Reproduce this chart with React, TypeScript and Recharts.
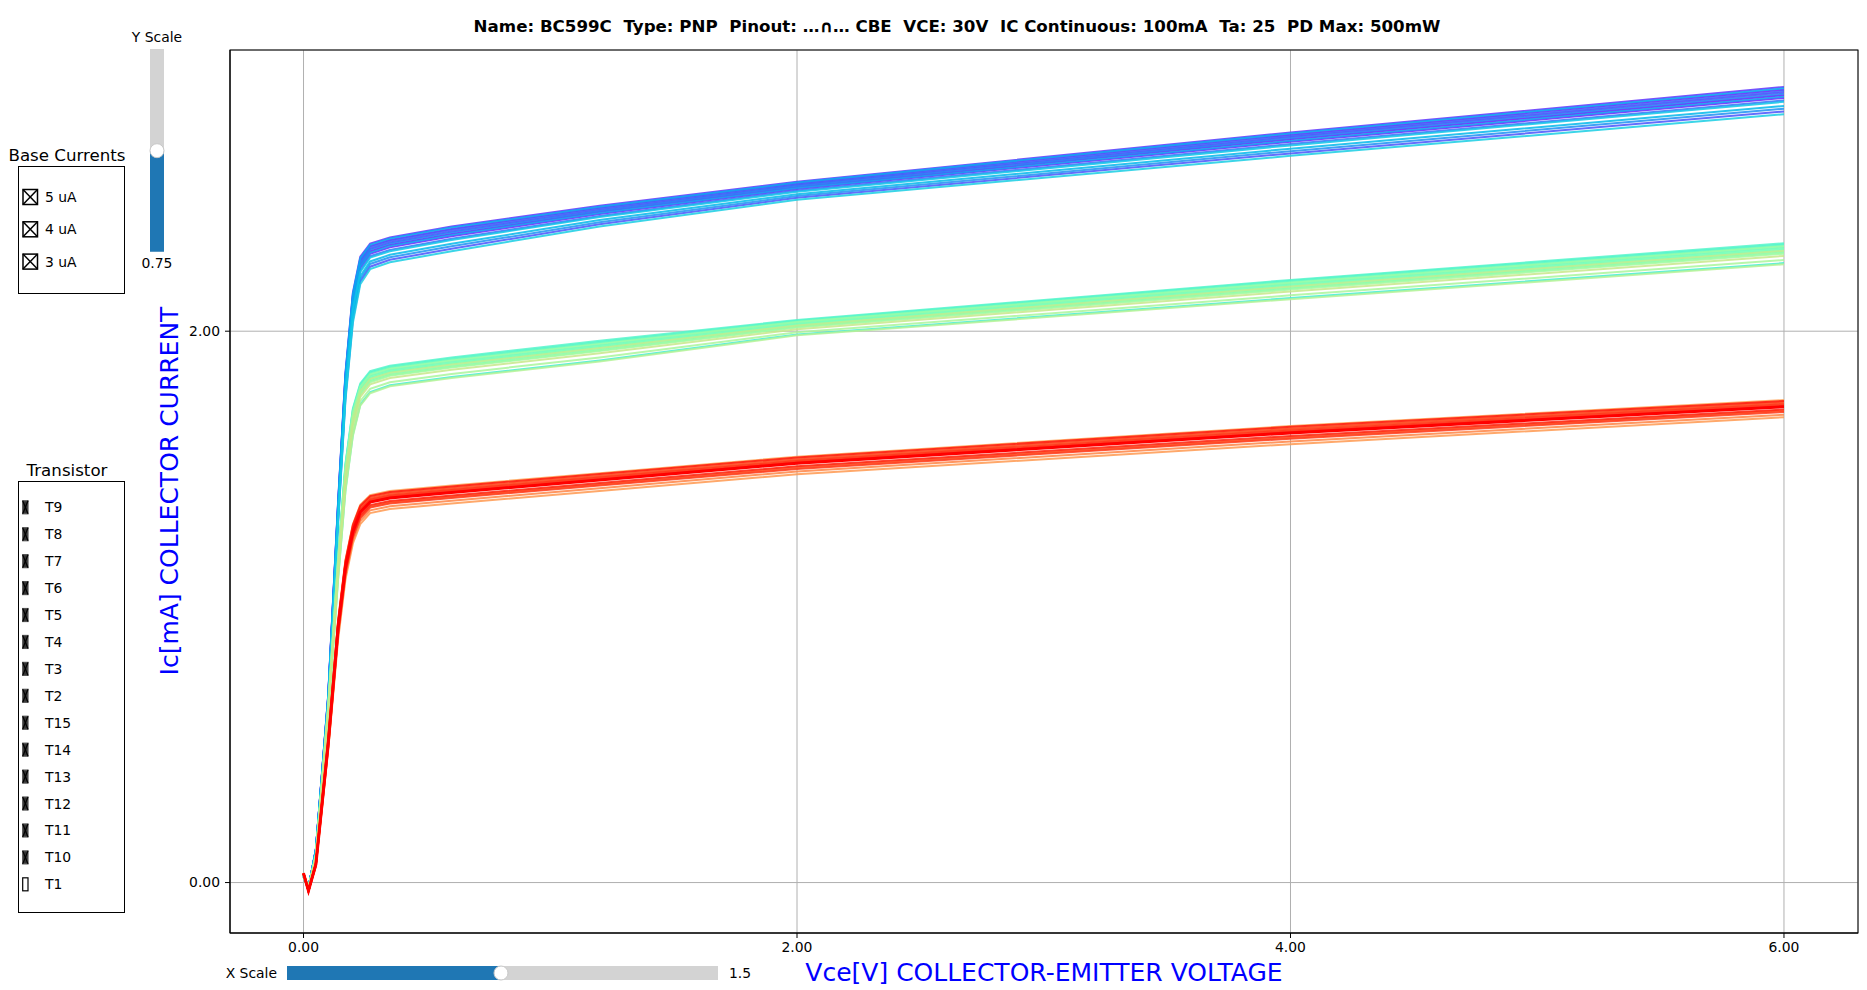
import React from 'react';
import { LineChart, Line, XAxis, YAxis, CartesianGrid } from 'recharts';

// ---------------- DATA ----------------
const VCE = [0, 0.02, 0.05, 0.1, 0.14, 0.17, 0.2, 0.23, 0.27, 0.35, 0.6, 1.2, 2, 4, 6];

const TRANSISTORS = ['T1', 'T2', 'T3', 'T4', 'T5', 'T6', 'T7', 'T8', 'T9', 'T10', 'T11', 'T12', 'T13', 'T14', 'T15'];
const LEGEND_ORDER = ['T9', 'T8', 'T7', 'T6', 'T5', 'T4', 'T3', 'T2', 'T15', 'T14', 'T13', 'T12', 'T11', 'T10', 'T1'];
const BASE_CURRENTS = ['5 uA', '4 uA', '3 uA'];
const X_TICKS = [0, 2, 4, 6];
const Y_TICKS = [0, 2];

// Ic [mA] per transistor (rows T1..T15) at the VCE points, base current 5 uA
const IC_5UA: number[][] = [
  [0.027, -0.02, 0.117, 0.668, 1.356, 1.82, 2.107, 2.24, 2.29, 2.313, 2.353, 2.433, 2.523, 2.696, 2.856],
  [0.029, -0.02, 0.119, 0.676, 1.372, 1.84, 2.129, 2.26, 2.309, 2.331, 2.371, 2.448, 2.536, 2.713, 2.876],
  [0.026, -0.02, 0.116, 0.664, 1.348, 1.81, 2.096, 2.23, 2.281, 2.304, 2.344, 2.425, 2.516, 2.687, 2.846],
  [0.03, -0.02, 0.12, 0.68, 1.38, 1.85, 2.14, 2.27, 2.318, 2.34, 2.38, 2.455, 2.542, 2.721, 2.886],
  [0.028, -0.02, 0.118, 0.672, 1.364, 1.83, 2.118, 2.25, 2.299, 2.322, 2.362, 2.44, 2.529, 2.704, 2.866],
  [0.021, -0.02, 0.111, 0.644, 1.308, 1.76, 2.041, 2.18, 2.234, 2.259, 2.299, 2.388, 2.484, 2.645, 2.797],
  [0.029, -0.02, 0.119, 0.674, 1.368, 1.835, 2.124, 2.255, 2.304, 2.327, 2.367, 2.444, 2.532, 2.708, 2.871],
  [0.025, -0.02, 0.115, 0.66, 1.34, 1.8, 2.085, 2.22, 2.272, 2.295, 2.335, 2.418, 2.51, 2.679, 2.837],
  [0.028, -0.02, 0.118, 0.67, 1.36, 1.825, 2.113, 2.245, 2.295, 2.318, 2.358, 2.436, 2.526, 2.7, 2.861],
  [0.022, -0.02, 0.112, 0.648, 1.316, 1.77, 2.052, 2.19, 2.244, 2.268, 2.308, 2.395, 2.49, 2.653, 2.807],
  [0.027, -0.02, 0.117, 0.666, 1.352, 1.815, 2.102, 2.235, 2.285, 2.309, 2.349, 2.429, 2.519, 2.691, 2.851],
  [0.03, -0.02, 0.12, 0.678, 1.376, 1.845, 2.135, 2.265, 2.313, 2.336, 2.376, 2.451, 2.539, 2.717, 2.881],
  [0.023, -0.02, 0.113, 0.652, 1.324, 1.78, 2.063, 2.2, 2.253, 2.277, 2.317, 2.403, 2.497, 2.662, 2.817],
  [0.025, -0.02, 0.115, 0.658, 1.336, 1.795, 2.08, 2.215, 2.267, 2.29, 2.331, 2.414, 2.506, 2.674, 2.832],
  [0.02, -0.02, 0.11, 0.64, 1.3, 1.75, 2.03, 2.17, 2.225, 2.25, 2.29, 2.38, 2.477, 2.636, 2.787],
];

// base current 4 uA
const IC_4UA: number[][] = [
  [0.021, -0.02, 0.09, 0.602, 1.104, 1.425, 1.625, 1.734, 1.779, 1.804, 1.834, 1.894, 1.988, 2.12, 2.247],
  [0.03, -0.02, 0.1, 0.638, 1.176, 1.515, 1.715, 1.806, 1.851, 1.871, 1.901, 1.961, 2.038, 2.183, 2.315],
  [0.03, -0.02, 0.1, 0.64, 1.18, 1.52, 1.72, 1.81, 1.855, 1.875, 1.905, 1.965, 2.041, 2.186, 2.319],
  [0.028, -0.02, 0.098, 0.632, 1.164, 1.5, 1.7, 1.794, 1.839, 1.86, 1.89, 1.95, 2.03, 2.172, 2.304],
  [0.029, -0.02, 0.099, 0.636, 1.172, 1.51, 1.71, 1.802, 1.847, 1.868, 1.898, 1.958, 2.035, 2.179, 2.311],
  [0.027, -0.02, 0.097, 0.628, 1.156, 1.49, 1.69, 1.786, 1.831, 1.853, 1.883, 1.943, 2.024, 2.165, 2.296],
  [0.028, -0.02, 0.098, 0.63, 1.16, 1.495, 1.695, 1.79, 1.835, 1.856, 1.886, 1.946, 2.027, 2.169, 2.3],
  [0.026, -0.02, 0.096, 0.624, 1.148, 1.48, 1.68, 1.778, 1.823, 1.845, 1.875, 1.935, 2.019, 2.158, 2.289],
  [0.026, -0.02, 0.096, 0.622, 1.144, 1.475, 1.675, 1.774, 1.819, 1.841, 1.871, 1.931, 2.016, 2.155, 2.285],
  [0.029, -0.02, 0.099, 0.634, 1.168, 1.505, 1.705, 1.798, 1.843, 1.864, 1.894, 1.954, 2.033, 2.176, 2.308],
  [0.025, -0.02, 0.095, 0.62, 1.14, 1.47, 1.67, 1.77, 1.815, 1.838, 1.868, 1.928, 2.013, 2.151, 2.281],
  [0.022, -0.02, 0.092, 0.608, 1.116, 1.44, 1.64, 1.746, 1.791, 1.815, 1.845, 1.905, 1.996, 2.13, 2.258],
  [0.02, -0.02, 0.09, 0.6, 1.1, 1.42, 1.62, 1.73, 1.775, 1.8, 1.83, 1.89, 1.985, 2.116, 2.243],
  [0.027, -0.02, 0.097, 0.626, 1.152, 1.485, 1.685, 1.782, 1.827, 1.849, 1.879, 1.939, 2.021, 2.162, 2.292],
  [0.024, -0.02, 0.094, 0.616, 1.132, 1.46, 1.66, 1.762, 1.807, 1.83, 1.86, 1.92, 2.007, 2.144, 2.273],
];

// base current 3 uA
const IC_3UA: number[][] = [
  [0.035, -0.03, 0.07, 0.52, 0.95, 1.17, 1.3, 1.37, 1.405, 1.42, 1.44, 1.485, 1.545, 1.656, 1.75],
  [0.03, -0.03, 0.06, 0.48, 0.88, 1.1, 1.23, 1.3, 1.34, 1.355, 1.375, 1.42, 1.481, 1.59, 1.688],
  [0.035, -0.03, 0.069, 0.516, 0.943, 1.163, 1.293, 1.363, 1.399, 1.414, 1.434, 1.479, 1.539, 1.649, 1.744],
  [0.031, -0.03, 0.062, 0.486, 0.891, 1.111, 1.241, 1.311, 1.35, 1.365, 1.385, 1.43, 1.491, 1.6, 1.697],
  [0.034, -0.03, 0.068, 0.512, 0.936, 1.156, 1.286, 1.356, 1.392, 1.407, 1.427, 1.472, 1.532, 1.643, 1.738],
  [0.032, -0.03, 0.064, 0.496, 0.908, 1.128, 1.258, 1.328, 1.366, 1.381, 1.401, 1.446, 1.507, 1.616, 1.713],
  [0.034, -0.03, 0.067, 0.508, 0.929, 1.149, 1.279, 1.349, 1.386, 1.401, 1.421, 1.466, 1.526, 1.636, 1.731],
  [0.032, -0.03, 0.064, 0.494, 0.905, 1.125, 1.255, 1.325, 1.363, 1.378, 1.398, 1.443, 1.503, 1.613, 1.71],
  [0.034, -0.03, 0.069, 0.514, 0.94, 1.16, 1.29, 1.36, 1.395, 1.41, 1.43, 1.475, 1.535, 1.646, 1.741],
  [0.032, -0.03, 0.063, 0.492, 0.901, 1.121, 1.251, 1.321, 1.36, 1.375, 1.395, 1.44, 1.5, 1.61, 1.707],
  [0.034, -0.03, 0.068, 0.51, 0.933, 1.153, 1.283, 1.353, 1.389, 1.404, 1.424, 1.469, 1.529, 1.64, 1.735],
  [0.032, -0.03, 0.065, 0.498, 0.912, 1.132, 1.262, 1.332, 1.369, 1.384, 1.404, 1.449, 1.51, 1.62, 1.716],
  [0.035, -0.03, 0.07, 0.518, 0.947, 1.167, 1.297, 1.367, 1.402, 1.417, 1.437, 1.482, 1.542, 1.653, 1.747],
  [0.033, -0.03, 0.067, 0.506, 0.926, 1.146, 1.276, 1.346, 1.382, 1.397, 1.417, 1.462, 1.523, 1.633, 1.728],
  [0.033, -0.03, 0.066, 0.505, 0.923, 1.143, 1.273, 1.343, 1.38, 1.395, 1.415, 1.46, 1.521, 1.631, 1.726],
];

const GROUPS = [IC_5UA, IC_4UA, IC_3UA];

// ---------------- STYLE ----------------
const FONT = 'DejaVu Sans, Verdana, sans-serif';
// colormap position range (rainbow) per base-current group
const GROUP_COLOR_RANGE: [number, number][] = [
  [0.0, 0.3],
  [0.38, 0.64],
  [0.78, 1.0],
];

function rainbow(t: number): string {
  const c = (v: number) => Math.round(Math.max(0, Math.min(1, v)) * 255);
  const r = c(Math.abs(2 * t - 0.5));
  const g = c(Math.sin(Math.PI * t));
  const b = c(Math.cos((Math.PI * t) / 2));
  return `rgb(${r},${g},${b})`;
}

type SeriesDef = { key: string; color: string; width: number; opacity: number };
const SERIES: SeriesDef[] = [];
GROUPS.forEach((g, gi) => {
  const [c0, c1] = GROUP_COLOR_RANGE[gi];
  g.forEach((_row, ti) => {
    const last = gi === 2 && ti === TRANSISTORS.length - 1;
    SERIES.push({
      key: `g${gi}_${TRANSISTORS[ti]}`,
      color: rainbow(c0 + ((c1 - c0) * ti) / (TRANSISTORS.length - 1)),
      width: last ? 3 : 2,
      opacity: last ? 1 : 0.85,
    });
  });
});

const TABLE = VCE.map((x, j) => {
  const row: Record<string, number> = { x };
  GROUPS.forEach((g, gi) => {
    g.forEach((vals, ti) => {
      row[`g${gi}_${TRANSISTORS[ti]}`] = vals[j];
    });
  });
  return row;
});

const fmt = (v: number) => v.toFixed(2);

function Overlay() {
  const tickFont = 13.9;
  return (
    <svg
      width={1867}
      height={990}
      style={{ position: 'absolute', left: 0, top: 0, pointerEvents: 'none' }}
      fontFamily={FONT}
    >
      {/* axes frame */}
      <rect x={230} y={50} width={1628} height={883} fill="none" stroke="#000" strokeWidth={1} />

      {/* title */}
      <text
        x={957}
        y={32}
        textAnchor="middle"
        fontWeight="bold"
        fontSize={16.67}
        fill="#000"
        style={{ whiteSpace: 'pre' }}
      >
        {'Name: BC599C  Type: PNP  Pinout: …∩… CBE  VCE: 30V  IC Continuous: 100mA  Ta: 25  PD Max: 500mW'}
      </text>

      {/* axis labels */}
      <text x={1044} y={981} textAnchor="middle" fontSize={25} fill="#0000ff">
        Vce[V] COLLECTOR-EMITTER VOLTAGE
      </text>
      <text
        x={0}
        y={0}
        transform="translate(178 491) rotate(-90)"
        textAnchor="middle"
        fontSize={25}
        fill="#0000ff"
      >
        Ic[mA] COLLECTOR CURRENT
      </text>

      {/* Y scale slider */}
      <text x={157} y={41.5} textAnchor="middle" fontSize={tickFont} fill="#000">Y Scale</text>
      <rect x={150} y={49} width={14} height={202.7} fill="#d3d3d3" />
      <rect x={150} y={150.7} width={14} height={101} fill="#1f77b4" />
      <circle cx={157} cy={150.7} r={7} fill="#fff" stroke="#c8c8c8" strokeWidth={1} />
      <text x={157} y={267.5} textAnchor="middle" fontSize={tickFont} fill="#000">0.75</text>

      {/* X scale slider */}
      <text x={277} y={978} textAnchor="end" fontSize={tickFont} fill="#000">X Scale</text>
      <rect x={287} y={966} width={431} height={14} fill="#d3d3d3" />
      <rect x={287} y={966} width={214} height={14} fill="#1f77b4" />
      <circle cx={501} cy={973} r={7} fill="#fff" stroke="#c8c8c8" strokeWidth={1} />
      <text x={729} y={978} textAnchor="start" fontSize={tickFont} fill="#000">1.5</text>

      {/* Base currents check box */}
      <text x={67} y={161} textAnchor="middle" fontSize={16.67} fill="#000">Base Currents</text>
      <rect x={18.5} y={166.5} width={106} height={127} fill="#fff" stroke="#000" strokeWidth={1} />
      {BASE_CURRENTS.map((lab, i) => {
        const cy = 197 + i * 32.3;
        const x0 = 23, x1 = 37.5, y0 = cy - 7.5, y1 = cy + 7.5;
        return (
          <g key={lab}>
            <rect x={x0} y={y0} width={x1 - x0} height={y1 - y0} fill="#fff" stroke="#000" strokeWidth={1.5} />
            <line x1={x0} y1={y0} x2={x1} y2={y1} stroke="#000" strokeWidth={1.5} />
            <line x1={x0} y1={y1} x2={x1} y2={y0} stroke="#000" strokeWidth={1.5} />
            <text x={45} y={cy + 5} fontSize={tickFont} fill="#000">{lab}</text>
          </g>
        );
      })}

      {/* Transistor check box */}
      <text x={67} y={476} textAnchor="middle" fontSize={16.67} fill="#000">Transistor</text>
      <rect x={18.5} y={481.5} width={106} height={431} fill="#fff" stroke="#000" strokeWidth={1} />
      {LEGEND_ORDER.map((lab, i) => {
        const cy = 507.3 + i * 26.93;
        const x0 = 22.7, x1 = 28, y0 = cy - 6.5, y1 = cy + 6.5;
        const checked = lab !== 'T1';
        return (
          <g key={lab}>
            <rect
              x={x0}
              y={y0}
              width={x1 - x0}
              height={y1 - y0}
              fill={checked ? '#333' : '#fff'}
              stroke={checked ? '#555' : '#000'}
              strokeWidth={1.2}
            />
            {checked && <line x1={x0} y1={y0} x2={x1} y2={y1} stroke="#000" strokeWidth={1.2} />}
            {checked && <line x1={x0} y1={y1} x2={x1} y2={y0} stroke="#000" strokeWidth={1.2} />}
            <text x={45} y={cy + 5} fontSize={tickFont} fill="#000">{lab}</text>
          </g>
        );
      })}
    </svg>
  );
}

export default function App() {
  const tickStyle = { fontSize: 13.9, fill: '#000', fontFamily: FONT };
  return (
    <div
      style={{
        position: 'absolute',
        left: 0,
        top: 0,
        width: 1867,
        height: 990,
        background: '#fff',
        fontFamily: FONT,
      }}
    >
      <LineChart
        width={1867}
        height={990}
        data={TABLE}
        margin={{ top: 50, right: 9, bottom: 0, left: 0 }}
      >
        <CartesianGrid stroke="#b0b0b0" strokeWidth={1} />
        <XAxis
          dataKey="x"
          type="number"
          domain={[-0.298, 6.3]}
          ticks={X_TICKS}
          tickFormatter={fmt}
          allowDataOverflow
          height={57}
          tick={tickStyle}
          tickLine={{ stroke: '#000' }}
          axisLine={{ stroke: '#000' }}
          tickSize={5}
          tickMargin={4}
          interval={0}
        />
        <YAxis
          type="number"
          domain={[-0.183, 3.02]}
          ticks={Y_TICKS}
          tickFormatter={fmt}
          allowDataOverflow
          width={230}
          tick={tickStyle}
          tickLine={{ stroke: '#000' }}
          axisLine={{ stroke: '#000' }}
          tickSize={5}
          tickMargin={5}
          interval={0}
        />
        {SERIES.map((s) => (
          <Line
            key={s.key}
            dataKey={s.key}
            type="linear"
            stroke={s.color}
            strokeWidth={s.width}
            strokeOpacity={s.opacity}
            dot={false}
            activeDot={false}
            isAnimationActive={false}
          />
        ))}
      </LineChart>
      <Overlay />
    </div>
  );
}
